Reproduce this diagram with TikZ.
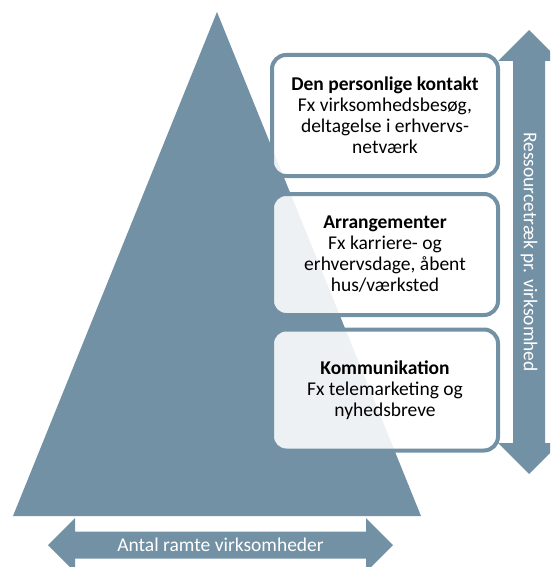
\documentclass[tikz,border=0pt]{standalone}
\usepackage{fontspec}
\setmainfont{Carlito}
\usetikzlibrary{calc,positioning}
\definecolor{graaBlaa}{RGB}{115,145,164}

\tikzset{
  boks/.style={draw=graaBlaa, line width=4pt, rounded corners=14pt,
    fill=white, fill opacity=0.88, text opacity=1,
    minimum width=226pt, minimum height=121pt, inner sep=0pt,
    align=center, font=\fontsize{19.5}{21}\selectfont},
  pilTekst/.style={text=white, inner sep=0pt, font=\fontsize{19.5}{21}\selectfont}
}

\begin{document}
\begin{tikzpicture}[x=1pt,y=-1pt]
  \clip (0,0) rectangle (550,567);
  % Pyramid
  \fill[graaBlaa] (13,516) -- (217,12) -- (421,516) -- cycle;
  % Three boxes
  \node[boks] (kontakt) at (385,115.5)
    {\textbf{Den personlige kontakt}\\Fx virksomhedsbesøg,\\deltagelse i erhvervs-\\netværk};
  \node[boks] (arrangementer) at (385,254.5)
    {\textbf{Arrangementer}\\Fx karriere- og\\erhvervsdage, åbent\\hus/værksted};
  \node[boks] (kommunikation) at (385,390)
    {\textbf{Kommunikation}\\Fx telemarketing og\\nyhedsbreve};
  % Vertical arrow
  \fill[graaBlaa] (529,30) -- (560,61) -- (545,61) -- (545,443) -- (560,443)
    -- (529,474) -- (498,443) -- (513,443) -- (513,61) -- (498,61) -- cycle;
  \node[pilTekst, rotate=-90] (ressource) at (529,252) {Ressourcetræk pr. virksomhed};
  % Horizontal arrow
  \fill[graaBlaa] (48,545) -- (75,518) -- (75,531.5) -- (366,531.5) -- (366,518)
    -- (393,545) -- (366,572) -- (366,558.5) -- (75,558.5) -- (75,572) -- cycle;
  \node[pilTekst] (antal) at (220.5,545) {Antal ramte virksomheder};
\end{tikzpicture}
\end{document}
